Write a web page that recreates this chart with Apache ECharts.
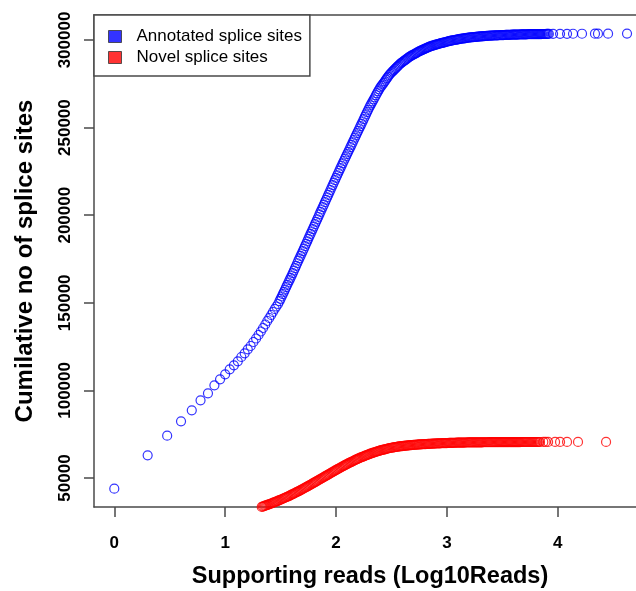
<!DOCTYPE html>
<html><head><meta charset="utf-8">
<script src="https://cdn.jsdelivr.net/npm/echarts@6/dist/echarts.min.js"></script>
<style>html,body{margin:0;padding:0;background:#fff}#c{width:636px;height:591px}</style>
</head><body><div id="c"></div>
<script>
const xTicks = [0, 1, 2, 3, 4];
const yTicks = [50000, 100000, 150000, 200000, 250000, 300000];
const seriesNames = ['Annotated splice sites', 'Novel splice sites'];

const annotatedX = [0, 0.301, 0.477, 0.602, 0.699, 0.778, 0.845, 0.903, 0.954, 1.0,
  1.041, 1.079, 1.114, 1.146, 1.176, 1.204, 1.230, 1.255, 1.279, 1.301,
  1.322, 1.342, 1.362, 1.380, 1.398, 1.415, 1.431, 1.447, 1.462, 1.477,
  1.49,
  1.50, 1.51, 1.52, 1.53, 1.54, 1.55, 1.56, 1.57, 1.58, 1.59,
  1.60, 1.61, 1.62, 1.63, 1.64, 1.65, 1.66, 1.67, 1.68, 1.69,
  1.70, 1.71, 1.72, 1.73, 1.74, 1.75, 1.76, 1.77, 1.78, 1.79,
  1.80, 1.81, 1.82, 1.83, 1.84, 1.85, 1.86, 1.87, 1.88, 1.89,
  1.90, 1.91, 1.92, 1.93, 1.94, 1.95, 1.96, 1.97, 1.98, 1.99,
  2.00, 2.01, 2.02, 2.03, 2.04, 2.05, 2.06, 2.07, 2.08, 2.09,
  2.10, 2.11, 2.12, 2.13, 2.14, 2.15, 2.16, 2.17, 2.18, 2.19,
  2.20, 2.21, 2.22, 2.23, 2.24, 2.25, 2.26, 2.27, 2.28, 2.29,
  2.30, 2.31, 2.32, 2.33, 2.34, 2.35, 2.36, 2.37, 2.38, 2.39,
  2.40, 2.41, 2.42, 2.43, 2.44, 2.45, 2.46, 2.47, 2.48, 2.49,
  2.50, 2.51, 2.52, 2.53, 2.54, 2.55, 2.56, 2.57, 2.58, 2.59,
  2.60, 2.61, 2.62, 2.63, 2.64, 2.65, 2.66, 2.67, 2.68, 2.69,
  2.70, 2.71, 2.72, 2.73, 2.74, 2.75, 2.76, 2.77, 2.78, 2.79,
  2.80, 2.81, 2.82, 2.83, 2.84, 2.85, 2.86, 2.87, 2.88, 2.89,
  2.90, 2.91, 2.92, 2.93, 2.94, 2.95, 2.96, 2.97, 2.98, 2.99,
  3.00, 3.01, 3.02, 3.03, 3.04, 3.05, 3.06, 3.07, 3.08, 3.09,
  3.10, 3.11, 3.12, 3.13, 3.14, 3.15, 3.16, 3.17, 3.18, 3.19,
  3.20, 3.21, 3.22, 3.23, 3.24, 3.25, 3.26, 3.27, 3.28, 3.29,
  3.30, 3.31, 3.32, 3.33, 3.34, 3.35, 3.36, 3.37, 3.38, 3.39,
  3.40, 3.41, 3.42, 3.43, 3.44, 3.45, 3.46, 3.47, 3.48, 3.49,
  3.50, 3.51, 3.52, 3.53, 3.54, 3.55, 3.56, 3.57, 3.58, 3.59,
  3.60, 3.61, 3.62, 3.63, 3.64, 3.65, 3.66, 3.67, 3.68, 3.69,
  3.70, 3.71, 3.72, 3.73, 3.74, 3.75, 3.76, 3.77, 3.78, 3.79,
  3.80, 3.81, 3.82, 3.83, 3.84, 3.85, 3.86, 3.87, 3.88, 3.89,
  3.90, 3.91, 3.92,
  3.958, 4.021, 4.084, 4.138, 4.219, 4.336, 4.363, 4.454, 4.625];
const annotatedY = [43900, 62960, 74150, 82360, 88640, 94350, 98350, 102900, 106340, 109200,
  112050, 114330, 116600, 119070, 121180, 123460, 125350, 127630, 129630, 131620,
  133620, 135620, 137620, 139620, 141330, 143040, 144750, 146470, 147890, 149320,
  150950,
  152290, 153600, 154910, 156220, 157540, 158910, 160280, 161590, 162900, 164240,
  165590, 166980, 168380, 169750, 171120, 172580, 174040, 175410, 176780, 178150,
  179520, 180910, 182310, 183680, 185050, 186500, 187960, 189330, 190700, 192100,
  193500, 194870, 196240, 197610, 198980, 200430, 201890, 203260, 204630, 206030,
  207430, 208800, 210170, 211560, 212960, 214390, 215820, 217210, 218610, 219980,
  221350, 222720, 224090, 225460, 226830, 228230, 229630, 230940, 232260, 233570,
  234880, 236190, 237510, 238850, 240190, 241560, 242930, 244240, 245560, 246870,
  248180, 249490, 250810, 252150, 253490, 254860, 256230, 257540, 258860, 260170,
  261480, 262680, 263880, 265020, 266160, 267330, 268500, 269640, 270790, 271870,
  272950, 273810, 274670, 275550, 276440, 277350, 278260, 279140, 280030, 280740,
  281460, 282090, 282720, 283340, 283970, 284620, 285280, 285880, 286480, 286960,
  287450, 287910, 288370, 288840, 289310, 289810, 290310, 290680, 291050, 291390,
  291730, 292070, 292420, 292790, 293160, 293500, 293850, 294130, 294420, 294700,
  294990, 295270, 295560, 295810, 296070, 296310, 296560, 296740, 296930, 297130,
  297330, 297500, 297670, 297870, 298070, 298220, 298380, 298540, 298700, 298850,
  299010, 299170, 299330, 299470, 299610, 299730, 299860, 299990, 300130, 300240,
  300350, 300480, 300610, 300710, 300810, 300890, 300980, 301080, 301180, 301280,
  301380, 301450, 301520, 301580, 301640, 301700, 301770, 301830, 301900, 301960,
  302020, 302070, 302120, 302170, 302220, 302270, 302330, 302380, 302430, 302460,
  302500, 302530, 302560, 302590, 302630, 302660, 302690, 302720, 302750, 302770,
  302800, 302830, 302860, 302880, 302910, 302930, 302960, 302980, 303000, 303020,
  303040, 303050, 303070, 303090, 303110, 303130, 303150, 303160, 303180, 303200,
  303220, 303240, 303260, 303280, 303300, 303310, 303330, 303340, 303350, 303360,
  303380, 303390, 303400, 303400, 303410, 303410, 303420, 303420, 303430, 303430,
  303440, 303440, 303450,
  303500, 303520, 303540, 303560, 303580, 303600, 303610, 303630, 303650];

const novelX = [1.32, 1.33, 1.34, 1.35, 1.36, 1.37, 1.38, 1.39,
  1.40, 1.41, 1.42, 1.43, 1.44, 1.45, 1.46, 1.47, 1.48, 1.49,
  1.50, 1.51, 1.52, 1.53, 1.54, 1.55, 1.56, 1.57, 1.58, 1.59,
  1.60, 1.61, 1.62, 1.63, 1.64, 1.65, 1.66, 1.67, 1.68, 1.69,
  1.70, 1.71, 1.72, 1.73, 1.74, 1.75, 1.76, 1.77, 1.78, 1.79,
  1.80, 1.81, 1.82, 1.83, 1.84, 1.85, 1.86, 1.87, 1.88, 1.89,
  1.90, 1.91, 1.92, 1.93, 1.94, 1.95, 1.96, 1.97, 1.98, 1.99,
  2.00, 2.01, 2.02, 2.03, 2.04, 2.05, 2.06, 2.07, 2.08, 2.09,
  2.10, 2.11, 2.12, 2.13, 2.14, 2.15, 2.16, 2.17, 2.18, 2.19,
  2.20, 2.21, 2.22, 2.23, 2.24, 2.25, 2.26, 2.27, 2.28, 2.29,
  2.30, 2.31, 2.32, 2.33, 2.34, 2.35, 2.36, 2.37, 2.38, 2.39,
  2.40, 2.41, 2.42, 2.43, 2.44, 2.45, 2.46, 2.47, 2.48, 2.49,
  2.50, 2.51, 2.52, 2.53, 2.54, 2.55, 2.56, 2.57, 2.58, 2.59,
  2.60, 2.61, 2.62, 2.63, 2.64, 2.65, 2.66, 2.67, 2.68, 2.69,
  2.70, 2.71, 2.72, 2.73, 2.74, 2.75, 2.76, 2.77, 2.78, 2.79,
  2.80, 2.81, 2.82, 2.83, 2.84, 2.85, 2.86, 2.87, 2.88, 2.89,
  2.90, 2.91, 2.92, 2.93, 2.94, 2.95, 2.96, 2.97, 2.98, 2.99,
  3.00, 3.01, 3.02, 3.03, 3.04, 3.05, 3.06, 3.07, 3.08, 3.09,
  3.10, 3.11, 3.12, 3.13, 3.14, 3.15, 3.16, 3.17, 3.18, 3.19,
  3.20, 3.21, 3.22, 3.23, 3.24, 3.25, 3.26, 3.27, 3.28, 3.29,
  3.30, 3.31, 3.32, 3.33, 3.34, 3.35, 3.36, 3.37, 3.38, 3.39,
  3.40, 3.41, 3.42, 3.43, 3.44, 3.45, 3.46, 3.47, 3.48, 3.49,
  3.50, 3.51, 3.52, 3.53, 3.54, 3.55, 3.56, 3.57, 3.58, 3.59,
  3.60, 3.61, 3.62, 3.63, 3.64, 3.65, 3.66, 3.67, 3.68, 3.69,
  3.70, 3.71, 3.72, 3.73, 3.74, 3.75, 3.76, 3.77, 3.78, 3.79,
  3.80, 3.81, 3.82, 3.83, 3.84,
  3.87, 3.89, 3.913, 3.976, 4.021, 4.084, 4.183, 4.436];
const novelY = [33280, 33500, 33720, 33950, 34180, 34400, 34620, 34840,
  35060, 35300, 35550, 35800, 36050, 36300, 36550, 36810, 37080, 37330,
  37590, 37870, 38160, 38440, 38730, 39010, 39290, 39570, 39860, 40180,
  40500, 40810, 41130, 41440, 41760, 42070, 42380, 42700, 43030, 43370,
  43720, 44080, 44440, 44780, 45120, 45460, 45810, 46160, 46520, 46880,
  47240, 47600, 47960, 48330, 48710, 49070, 49430, 49790, 50150, 50510,
  50880, 51240, 51610, 51970, 52340, 52710, 53090, 53440, 53800, 54160,
  54520, 54870, 55230, 55580, 55940, 56290, 56640, 56970, 57300, 57630,
  57970, 58300, 58640, 58940, 59250, 59540, 59840, 60150, 60460, 60750,
  61050, 61330, 61620, 61870, 62120, 62370, 62620, 62870, 63120, 63380,
  63650, 63870, 64090, 64290, 64500, 64710, 64920, 65130, 65340, 65540,
  65740, 65900, 66070, 66220, 66380, 66530, 66690, 66850, 67010, 67130,
  67260, 67360, 67470, 67580, 67690, 67800, 67910, 68010, 68110, 68180,
  68250, 68320, 68390, 68460, 68530, 68600, 68660, 68720, 68780, 68840,
  68890, 68940, 68990, 69040, 69090, 69140, 69190, 69230, 69260, 69300,
  69340, 69380, 69410, 69450, 69490, 69520, 69560, 69590, 69620, 69660,
  69690, 69720, 69750, 69780, 69810, 69840, 69860, 69890, 69910, 69940,
  69960, 69990, 70010, 70030, 70050, 70070, 70090, 70110, 70130, 70150,
  70170, 70190, 70210, 70220, 70230, 70240, 70250, 70260, 70270, 70280,
  70290, 70300, 70310, 70320, 70320, 70330, 70340, 70350, 70360, 70370,
  70380, 70390, 70390, 70400, 70400, 70410, 70420, 70420, 70430, 70430,
  70440, 70440, 70450, 70460, 70470, 70470, 70480, 70480, 70490, 70490,
  70490, 70500, 70500, 70500, 70500, 70510, 70510, 70510, 70510, 70520,
  70520, 70520, 70520, 70530, 70530, 70530, 70530, 70540, 70540, 70540,
  70540, 70540, 70540, 70550, 70550, 70550, 70550, 70550, 70550, 70550,
  70550, 70560, 70560, 70560, 70560,
  70570, 70570, 70580, 70590, 70590, 70600, 70600, 70610];

const FONT = '"Liberation Sans", Arial, Helvetica, sans-serif';
const AXIS_COLOR = '#4a4a4a';
const X_MIN = -0.183, X_MAX = 4.706;
const chart = echarts.init(document.getElementById('c'), null, {renderer: 'canvas'});

function pairs(xs, ys) { return xs.map((x, i) => [x, ys[i]]); }

chart.setOption({
  animation: false,
  backgroundColor: '#ffffff',
  grid: {left: 94, top: 15, right: 0, height: 492, show: false, containLabel: false, outerBoundsMode: 'none'},
  legend: {
    orient: 'vertical', left: 94, top: 15, padding: [13, 8, 10, 14], itemGap: 4,
    itemWidth: 13, itemHeight: 12, selectedMode: false,
    backgroundColor: '#ffffff', borderColor: AXIS_COLOR, borderWidth: 1.5, borderRadius: 0,
    textStyle: {fontFamily: FONT, fontSize: 17, color: '#000', padding: [0, 0, 0, 10], lineHeight: 17},
    data: [
      {name: seriesNames[0], icon: 'rect', itemStyle: {color: '#0000ff', borderColor: '#333', borderWidth: 1}},
      {name: seriesNames[1], icon: 'rect', itemStyle: {color: '#ff0000', borderColor: '#333', borderWidth: 1}}
    ]
  },
  xAxis: [{
    type: 'value', min: X_MIN, max: X_MAX, position: 'bottom',
    name: 'Supporting reads (Log10Reads)', nameLocation: 'middle', nameGap: 58,
    nameTextStyle: {fontFamily: FONT, fontSize: 23.5, fontWeight: 'bold', color: '#000', padding: [0, 0, 0, 10]},
    axisLine: {show: true, onZero: false, lineStyle: {color: AXIS_COLOR, width: 1.5}},
    axisTick: {show: true, customValues: xTicks, length: 10, lineStyle: {color: AXIS_COLOR, width: 1.5}},
    axisLabel: {customValues: xTicks, margin: 28, fontFamily: FONT, fontSize: 17, fontWeight: 'bold', color: '#000',
      formatter: v => String(v)},
    splitLine: {show: false}
  }, {
    type: 'value', min: X_MIN, max: X_MAX, position: 'top',
    axisLine: {show: true, onZero: false, lineStyle: {color: AXIS_COLOR, width: 1.5}},
    axisTick: {show: false}, axisLabel: {show: false}, splitLine: {show: false}
  }],
  yAxis: {
    type: 'value', min: 33450, max: 314270, position: 'left',
    name: 'Cumilative no of splice sites', nameLocation: 'middle', nameGap: 57, nameRotate: 90,
    nameTextStyle: {fontFamily: FONT, fontSize: 24, fontWeight: 'bold', color: '#000'},
    axisLine: {show: true, onZero: false, lineStyle: {color: AXIS_COLOR, width: 1.5}},
    axisTick: {show: true, customValues: yTicks, length: 10, lineStyle: {color: AXIS_COLOR, width: 1.5}},
    axisLabel: {customValues: yTicks, rotate: 90, margin: 20, fontFamily: FONT, fontSize: 17, fontWeight: 'bold', color: '#000',
      formatter: v => String(v)},
    splitLine: {show: false}
  },
  series: [
    {type: 'scatter', name: seriesNames[0], data: pairs(annotatedX, annotatedY),
      symbol: 'circle', symbolSize: 9, silent: true, emphasis: {disabled: true},
      itemStyle: {color: 'rgba(0,0,0,0)', borderColor: '#0000ff', borderWidth: 1.2}},
    {type: 'scatter', name: seriesNames[1], data: pairs(novelX, novelY),
      symbol: 'circle', symbolSize: 9, silent: true, emphasis: {disabled: true},
      itemStyle: {color: 'rgba(0,0,0,0)', borderColor: '#ff0000', borderWidth: 1.2}}
  ]
});
</script>
</body></html>
